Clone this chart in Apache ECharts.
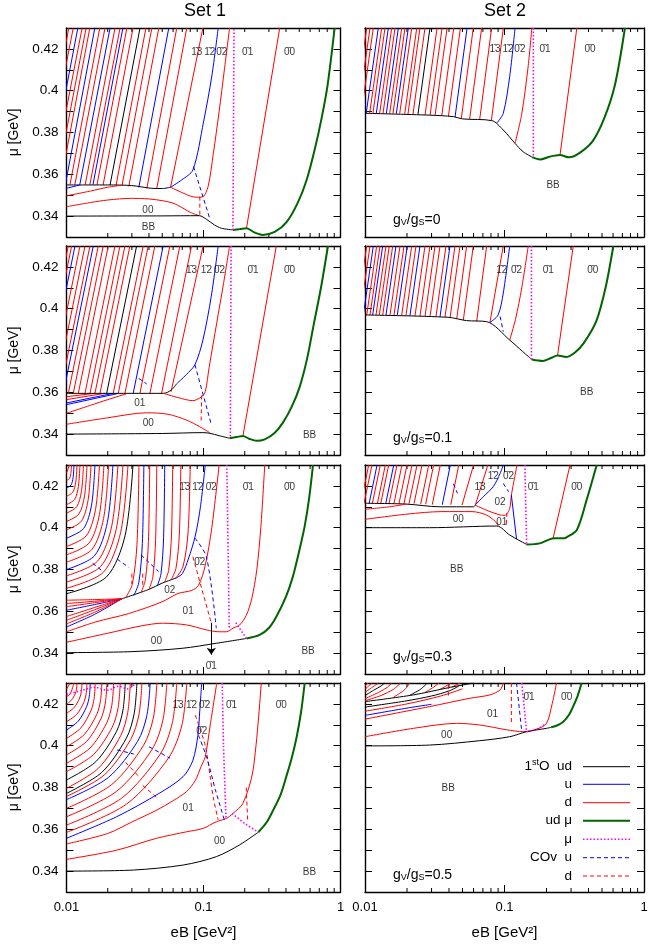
<!DOCTYPE html>
<html><head><meta charset="utf-8">
<script src="https://cdn.jsdelivr.net/npm/echarts@6/dist/echarts.min.js"></script>
<style>html,body{margin:0;padding:0;background:#fff}#c{width:664px;height:949px}</style>
</head><body><div id="c"></div>
<script>
// ---------------- DATA ----------------
const setNames = ['Set 1', 'Set 2'];
const gvRatios = ['0', '0.1', '0.3', '0.5'];
const xTickLabels = [0.01, 0.1, 1];
const yTickLabels = [0.34, 0.36, 0.38, 0.4, 0.42];
const legendItems = [['1{s|st}O  ud','ud'],['u','u'],['d','d'],['ud μ','udmu'],['μ','mu'],['COv  u','cu'],['d','cd']];

// fans: [eB at base, mu at base, eB at mu=0.43, quark]
const s1g0_fan = [
 [0.0063,0.355,0.0104,'d'],[0.0067,0.355,0.0112,'d'],[0.0073,0.355,0.0121,'u'],[0.0078,0.355,0.0130,'d'],
 [0.0084,0.355,0.0139,'d'],[0.0090,0.355,0.0148,'d'],[0.0098,0.355,0.0161,'u'],[0.0106,0.355,0.0175,'d'],
 [0.0115,0.355,0.0191,'d'],[0.0125,0.355,0.0208,'u'],[0.0137,0.355,0.0226,'d'],[0.0148,0.355,0.0246,'d'],
 [0.0156,0.355,0.0258,'u'],[0.0167,0.355,0.0276,'d'],[0.0185,0.3549,0.0306,'d'],[0.0208,0.3549,0.0344,'ud'],
 [0.0230,0.3547,0.038,'d'],[0.0254,0.3545,0.042,'d'],[0.0285,0.3542,0.0472,'d'],[0.0337,0.3537,0.0558,'u'],
 [0.0386,0.3533,0.0638,'d'],[0.0456,0.3532,0.0755,'d'],[0.0575,0.3538,0.099,'d']
];
const s1g0_lines = [
 ['ud',[[0.01,0.3549],[0.02,0.3549],[0.03,0.3546],[0.042,0.3533],[0.05,0.3532],[0.0575,0.3538]]],
 ['u',[[0.01,0.3533],[0.0125,0.3549]]],
 ['d',[[0.01,0.3497],[0.015,0.352],[0.02,0.3538],[0.025,0.3547]]],
 ['d',[[0.01,0.3445],[0.015,0.3465],[0.02,0.3477],[0.03,0.3485],[0.04,0.3482],[0.05,0.3474],[0.06,0.3462],[0.07,0.344],[0.08,0.3418],[0.093,0.3402]]],
 ['ud',[[0.01,0.34],[0.05,0.3401],[0.093,0.3402],[0.105,0.3385],[0.12,0.3358],[0.135,0.3342],[0.164,0.3334]]],
 ['udmu',[[0.164,0.3334],[0.185,0.3338],[0.206,0.3342],[0.235,0.3322],[0.27,0.331],[0.331,0.3324],[0.405,0.3372],[0.487,0.3463],[0.566,0.3573],[0.647,0.3716],[0.728,0.3869],[0.805,0.4027],[0.906,0.43]]],
 ['d',[[0.206,0.3342],[0.36,0.43]]],
 ['mu',[[0.164,0.3334],[0.167,0.43]]],
 ['u',[[0.0575,0.3538],[0.0693,0.3573],[0.0837,0.3621],[0.1,0.385],[0.115,0.407],[0.128,0.43]]],
 ['d',[[0.0575,0.3538],[0.07,0.3512],[0.08,0.3496],[0.089,0.349],[0.099,0.3493],[0.108,0.3541],[0.118,0.37],[0.13,0.39],[0.142,0.41],[0.155,0.43]]],
 ['cu',[[0.0845,0.3637],[0.112,0.3381]]],
 ['cd',[[0.094,0.3493],[0.094,0.3405]]]
];
const s1g0_labels = [['1\u03043',0.0893,0.4185],['1\u03042',0.111,0.4185],['0\u03042',0.136,0.4185],['0\u03041',0.21,0.4185],['0\u03040',0.425,0.4185],['00',0.0393,0.3429],['BB',0.0397,0.3348]];

const s2g0_fan = [
 [0.00843,0.3892,0.01028,'d'],[0.0089,0.3892,0.01086,'d'],[0.0094,0.3892,0.01147,'d'],[0.0102,0.3892,0.01245,'u'],
 [0.0108,0.3892,0.01317,'d'],[0.0114,0.3892,0.01391,'d'],[0.01205,0.3892,0.0147,'u'],[0.01274,0.3892,0.01554,'d'],
 [0.01346,0.3891,0.01641,'d'],[0.01422,0.3891,0.01734,'u'],[0.01503,0.3891,0.01833,'d'],[0.01587,0.389,0.01935,'d'],
 [0.01677,0.389,0.02045,'u'],[0.01773,0.389,0.02162,'d'],[0.01927,0.3889,0.0235,'d'],[0.02032,0.3888,0.02478,'d'],
 [0.02207,0.3887,0.02692,'d'],[0.02396,0.3886,0.02922,'ud'],[0.02695,0.3884,0.03287,'d'],[0.02927,0.3883,0.03569,'d'],
 [0.03178,0.3881,0.03876,'d'],[0.03547,0.3879,0.04325,'d'],[0.0396,0.3877,0.0483,'d'],[0.04421,0.3874,0.05392,'u'],
 [0.04899,0.3866,0.05974,'d'],[0.05622,0.3863,0.06856,'d'],[0.06631,0.386,0.08087,'d'],[0.0805,0.3857,0.09813,'d']
];
const s2g0_lines = [
 ['ud',[[0.01,0.3892],[0.029,0.3883],[0.043,0.3876],[0.05,0.3865],[0.081,0.3857],[0.098,0.3812],[0.119,0.3748],[0.136,0.3708],[0.158,0.3682]]],
 ['udmu',[[0.158,0.3682],[0.18,0.3671],[0.21,0.3684],[0.25,0.3692],[0.29,0.3681],[0.35,0.3705],[0.43,0.376],[0.52,0.387],[0.62,0.403],[0.73,0.43]]],
 ['u',[[0.088,0.3845],[0.098,0.3892],[0.109,0.4069],[0.119,0.43]]],
 ['d',[[0.119,0.3748],[0.133,0.389],[0.148,0.412],[0.157,0.43]]],
 ['mu',[[0.161,0.43],[0.161,0.368]]],
 ['d',[[0.25,0.3692],[0.33,0.43]]]
];
const s2g0_labels = [['1\u03043',0.0855,0.4196],['1\u03042',0.106,0.4196],['0\u03042',0.129,0.4196],['0\u03041',0.195,0.4196],['0\u03040',0.41,0.4196],['BB',0.223,0.3549]];

const s1g01_fan = [
 [0.00623,0.3595,0.0103,'d'],[0.00659,0.3595,0.0109,'d'],[0.00697,0.3595,0.01153,'u'],[0.00758,0.3595,0.01254,'d'],
 [0.00825,0.3595,0.01364,'d'],[0.00896,0.3595,0.01483,'d'],[0.00948,0.3595,0.01568,'u'],[0.01031,0.3595,0.01705,'d'],
 [0.01121,0.3595,0.01854,'d'],[0.01219,0.3595,0.02017,'d'],[0.01364,0.3595,0.02257,'d'],[0.01484,0.3595,0.02455,'d'],
 [0.01613,0.3595,0.02669,'d'],[0.01755,0.3595,0.02903,'d'],[0.01964,0.3595,0.03249,'ud'],[0.02194,0.3595,0.03629,'d'],
 [0.02386,0.3595,0.03947,'d'],[0.0267,0.3595,0.04417,'d'],[0.03068,0.3595,0.05076,'u'],[0.03434,0.3595,0.0568,'d'],
 [0.04062,0.3595,0.0672,'d'],[0.04942,0.3595,0.08176,'d'],[0.058,0.3603,0.09933,'d']
];
const s1g01_lines = [
 ['d',[[0.01,0.3579],[0.016,0.3595]]],['d',[[0.01,0.3565],[0.019,0.3595]]],
 ['u',[[0.01,0.3549],[0.022,0.3595]]],['u',[[0.01,0.3541],[0.024,0.3595]]],
 ['ud',[[0.01,0.3595],[0.03,0.3595],[0.051,0.3595],[0.058,0.361],[0.0635,0.364]]],
 ['u',[[0.0635,0.364],[0.075,0.3685],[0.0866,0.3732],[0.099,0.385],[0.114,0.406],[0.128,0.43]]],
 ['d',[[0.01,0.35],[0.015,0.3538],[0.02,0.3565],[0.0275,0.3593]]],
 ['d',[[0.051,0.3595],[0.065,0.3575],[0.0835,0.356],[0.097,0.3579],[0.103,0.3603],[0.11,0.372],[0.125,0.3933],[0.14,0.412],[0.155,0.43]]],
 ['d',[[0.01,0.3447],[0.02,0.3478],[0.0385,0.3502],[0.055,0.3495],[0.0752,0.3467],[0.094,0.3435],[0.111,0.3407]]],
 ['ud',[[0.01,0.34],[0.05,0.3403],[0.099,0.3407],[0.111,0.3404],[0.131,0.3392],[0.155,0.338]]],
 ['udmu',[[0.155,0.338],[0.175,0.3386],[0.194,0.3391],[0.215,0.3378],[0.244,0.3368],[0.28,0.3375],[0.33,0.3405],[0.38,0.3455],[0.44,0.353],[0.503,0.3625],[0.57,0.376],[0.64,0.393],[0.72,0.41],[0.81,0.43]]],
 ['d',[[0.194,0.3391],[0.34,0.43]]],
 ['mu',[[0.159,0.43],[0.157,0.338]]],
 ['cu',[[0.0866,0.3732],[0.114,0.3446]]],
 ['cd',[[0.097,0.3585],[0.096,0.3457]]],
 ['cu',[[0.0336,0.3667],[0.0385,0.364]]]
];
const s1g01_labels = [['1\u03043',0.0818,0.4185],['1\u03042',0.105,0.4185],['0\u03042',0.131,0.4185],['0\u03041',0.23,0.4185],['0\u03040',0.425,0.4185],['01',0.0343,0.3547],['00',0.0395,0.3451],['BB',0.595,0.3396]];

const s2g01_fan = [
 [0.00872,0.397,0.01028,'d'],[0.00921,0.397,0.01086,'d'],[0.00973,0.397,0.01147,'u'],[0.01029,0.397,0.01213,'d'],
 [0.01086,0.397,0.01281,'d'],[0.01135,0.397,0.01339,'u'],[0.01199,0.397,0.01414,'d'],[0.01266,0.397,0.01493,'d'],
 [0.0134,0.397,0.0158,'d'],[0.01414,0.397,0.01668,'u'],[0.01511,0.397,0.01782,'d'],[0.01615,0.397,0.01904,'d'],
 [0.01704,0.397,0.0201,'u'],[0.01833,0.397,0.02162,'d'],[0.01967,0.3968,0.0232,'d'],[0.02101,0.3967,0.02478,'u'],
 [0.02283,0.3966,0.02692,'d'],[0.02478,0.3965,0.02922,'d'],[0.02693,0.3964,0.03176,'d'],[0.02924,0.3963,0.03448,'d'],
 [0.03227,0.3962,0.03806,'d'],[0.03449,0.3961,0.04067,'u'],[0.03746,0.396,0.04418,'d'],[0.04068,0.3955,0.04797,'d'],
 [0.04543,0.395,0.05357,'d'],[0.05066,0.3945,0.05974,'d'],[0.0632,0.394,0.07452,'d'],[0.0786,0.3934,0.098,'d']
];
const s2g01_lines = [
 ['ud',[[0.01,0.397],[0.0394,0.3959],[0.0535,0.3943],[0.0745,0.3938],[0.109,0.385],[0.135,0.3795],[0.157,0.3757]]],
 ['udmu',[[0.157,0.3757],[0.188,0.375],[0.215,0.3764],[0.24,0.3776],[0.278,0.3769],[0.32,0.379],[0.37,0.3835],[0.455,0.394],[0.53,0.41],[0.603,0.43]]],
 ['u',[[0.0786,0.3934],[0.09,0.397],[0.098,0.4075],[0.109,0.43]]],
 ['cu',[[0.093,0.3963],[0.098,0.389]]],
 ['d',[[0.109,0.385],[0.12,0.395],[0.133,0.41],[0.148,0.43]]],
 ['mu',[[0.156,0.43],[0.156,0.3757]]],
 ['d',[[0.24,0.3776],[0.311,0.43]]]
];
const s2g01_labels = [['1\u03042',0.0955,0.4185],['0\u03042',0.122,0.4185],['0\u03041',0.206,0.4185],['0\u03040',0.43,0.4185],['BB',0.388,0.36]];

const s1g03_lines = [
 ['d',[[0.01,0.426],[0.0105,0.43]]],
 ['d',[[0.01,0.4225],[0.01051,0.4235],[0.01076,0.4259],[0.01087,0.43]]],
 ['u',[[0.01,0.419],[0.01078,0.4204],[0.01117,0.424],[0.01134,0.43]]],
 ['d',[[0.01,0.415],[0.01112,0.417],[0.01168,0.4218],[0.01193,0.43]]],
 ['d',[[0.01,0.411],[0.01146,0.4135],[0.0122,0.4196],[0.01254,0.43]]],
 ['d',[[0.01,0.407],[0.01187,0.41],[0.01285,0.4174],[0.0133,0.43]]],
 ['d',[[0.01,0.403],[0.0123,0.4065],[0.01354,0.4152],[0.01411,0.43]]],
 ['d',[[0.01,0.399],[0.0128,0.403],[0.01436,0.413],[0.01509,0.43]]],
 ['u',[[0.01,0.395],[0.01332,0.3996],[0.01523,0.4108],[0.01613,0.43]]],
 ['d',[[0.01,0.391],[0.01394,0.3961],[0.01628,0.4086],[0.0174,0.43]]],
 ['d',[[0.01,0.387],[0.01459,0.3926],[0.0174,0.4064],[0.01876,0.43]]],
 ['d',[[0.01,0.3835],[0.01529,0.3895],[0.01864,0.4044],[0.02029,0.43]]],
 ['u',[[0.01,0.38],[0.01597,0.3865],[0.01987,0.4025],[0.02182,0.43]]],
 ['d',[[0.01,0.377],[0.0168,0.3839],[0.0214,0.4009],[0.02374,0.43]]],
 ['d',[[0.01,0.374],[0.01767,0.3813],[0.02305,0.3992],[0.02583,0.43]]],
 ['d',[[0.01,0.371],[0.01859,0.3787],[0.02482,0.3976],[0.0281,0.43]]],
 ['ud',[[0.01,0.3684],[0.01955,0.3764],[0.02674,0.3961],[0.03057,0.43]]],
 ['u',[[0.01,0.3525],[0.016,0.3585],[0.0254,0.366]]],
 ['d',[[0.01,0.354],[0.016,0.3595],[0.0254,0.366]]],
 ['d',[[0.01,0.3557],[0.016,0.3607],[0.0254,0.366]]],
 ['d',[[0.01,0.3575],[0.016,0.3618],[0.0254,0.366]]],
 ['u',[[0.01,0.3605],[0.016,0.3632],[0.0254,0.366]]],
 ['d',[[0.01,0.3622],[0.016,0.3641],[0.0254,0.366]]],
 ['d',[[0.01,0.3637],[0.016,0.3648],[0.0254,0.366]]],
 ['d',[[0.01,0.3653],[0.016,0.3656],[0.0254,0.366]]],
 ['ud',[[0.0254,0.366],[0.04,0.3705],[0.05,0.3735],[0.0635,0.376]]],
 ['u',[[0.0635,0.376],[0.07,0.378],[0.0775,0.385],[0.087,0.396],[0.095,0.41],[0.103,0.43]]],
 ['d',[[0.027,0.3665],[0.0302,0.3729],[0.03268,0.3919],[0.0338,0.43]]],
 ['u',[[0.031,0.3675],[0.03373,0.3738],[0.03578,0.3925],[0.0367,0.43]]],
 ['d',[[0.035,0.369],[0.03765,0.3751],[0.03962,0.3934],[0.0405,0.43]]],
 ['d',[[0.04,0.3705],[0.04271,0.3765],[0.04471,0.3943],[0.0456,0.43]]],
 ['u',[[0.046,0.3722],[0.04895,0.378],[0.05113,0.3953],[0.0521,0.43]]],
 ['d',[[0.052,0.374],[0.05567,0.3796],[0.05839,0.3964],[0.0596,0.43]]],
 ['d',[[0.058,0.375],[0.06294,0.3805],[0.06664,0.397],[0.0683,0.43]]],
 ['d',[[0.0625,0.3758],[0.07071,0.3812],[0.0771,0.3975],[0.08,0.43]]],
 ['d',[[0.01,0.3502],[0.0163,0.3549],[0.0284,0.3589],[0.0497,0.3645],[0.065,0.3685],[0.082,0.370],[0.092,0.3724],[0.103,0.382],[0.115,0.40],[0.13,0.43]]],
 ['d',[[0.01,0.3452],[0.02,0.3495],[0.035,0.353],[0.05,0.3543],[0.075,0.3535],[0.105,0.3511],[0.13,0.3502],[0.147,0.3502],[0.165,0.352],[0.184,0.3535],[0.205,0.358],[0.225,0.366],[0.245,0.38],[0.262,0.40],[0.28,0.43]]],
 ['ud',[[0.01,0.3402],[0.03,0.3407],[0.07,0.3423],[0.124,0.3447],[0.206,0.347]]],
 ['udmu',[[0.206,0.347],[0.257,0.3487],[0.3,0.352],[0.34,0.3574],[0.4,0.367],[0.449,0.3766],[0.5,0.389],[0.547,0.4005],[0.59,0.414],[0.63,0.43]]],
 ['mu',[[0.148,0.43],[0.152,0.38],[0.154,0.352]]],
 ['mu',[[0.172,0.3545],[0.206,0.347]]],
 ['cd',[[0.0837,0.3861],[0.114,0.3543]]],
 ['cu',[[0.0866,0.395],[0.105,0.3861],[0.124,0.3519]]],
 ['cu',[[0.0155,0.383],[0.0185,0.379]]],
 ['cu',[[0.0234,0.385],[0.0285,0.381]]],
 ['cu',[[0.035,0.387],[0.047,0.379]]],
 ['cd',[[0.030,0.378],[0.030,0.373]]],
 ['cd',[[0.036,0.378],[0.036,0.372]]]
];
const s1g03_arrow = [[0.114,0.3545],[0.114,0.3392]];
const s1g03_labels = [['1\u03043',0.0731,0.4193],['1\u03042',0.091,0.4193],['0\u03042',0.114,0.4193],['0\u03041',0.212,0.4193],['0\u03040',0.425,0.4193],['02',0.0568,0.3702],['0\u03042',0.094,0.3837],['01',0.0773,0.3598],['00',0.0453,0.3455],['BB',0.58,0.3407],['0\u03041',0.114,0.3335]];

const s2g03_fan = [
 [0.00931,0.4115,0.01063,'d'],[0.00983,0.4115,0.01122,'d'],[0.0107,0.4115,0.0122,'u'],[0.01128,0.4115,0.01288,'d'],
 [0.01226,0.4115,0.01399,'d'],[0.01296,0.4115,0.01479,'d'],[0.01408,0.4115,0.01607,'u'],[0.01485,0.4115,0.01695,'d'],
 [0.01612,0.4115,0.0184,'d'],[0.01752,0.4115,0.02,'d'],[0.01903,0.4115,0.02172,'d'],[0.02067,0.4115,0.0236,'d'],
 [0.02246,0.4115,0.02564,'d'],[0.02508,0.4113,0.02863,'d'],[0.0272,0.4112,0.03105,'d'],[0.03035,0.411,0.03465,'d'],
 [0.0358,0.411,0.0409,'u'],[0.0412,0.411,0.047,'d'],[0.0496,0.4108,0.060,'d'],[0.0617,0.4107,0.076,'d']
];
const s2g03_lines = [
 ['ud',[[0.01,0.4117],[0.0198,0.4113],[0.0344,0.41],[0.06,0.41],[0.0617,0.4107]]],
 ['d',[[0.01,0.4088],[0.015,0.41],[0.0198,0.4113]]],
 ['d',[[0.0615,0.4108],[0.0787,0.4077],[0.093,0.4061],[0.101,0.4059],[0.109,0.4093],[0.112,0.4156],[0.123,0.43]]],
 ['u',[[0.0615,0.4108],[0.0703,0.4148],[0.083,0.4196],[0.093,0.426],[0.098,0.43]]],
 ['u',[[0.112,0.4156],[0.122,0.3945]]],
 ['cu',[[0.098,0.4212],[0.107,0.4172]]],
 ['cd',[[0.104,0.4071],[0.103,0.4015]]],
 ['d',[[0.01,0.404],[0.02,0.4065],[0.0356,0.4077],[0.0585,0.4077],[0.074,0.4061],[0.0862,0.4029],[0.09,0.4008]]],
 ['ud',[[0.01,0.40],[0.029,0.40],[0.088,0.4008],[0.109,0.3965],[0.144,0.392]]],
 ['udmu',[[0.144,0.392],[0.179,0.3925],[0.21,0.3944],[0.23,0.3949],[0.265,0.3949],[0.278,0.3954],[0.33,0.3989],[0.388,0.4133],[0.458,0.43]]],
 ['mu',[[0.14,0.43],[0.144,0.392]]],
 ['d',[[0.223,0.3949],[0.295,0.43]]],
 ['cu',[[0.043,0.421],[0.046,0.4165]]]
];
const s2g03_labels = [['1\u03042',0.083,0.4244],['0\u03042',0.107,0.4244],['1\u03043',0.0668,0.4193],['0\u03041',0.161,0.4193],['0\u03040',0.33,0.4193],['02',0.093,0.412],['01',0.0955,0.4025],['00',0.0467,0.404],['BB',0.0455,0.38]];

const s1g05_lines = [
 ['d',[[0.01,0.427],[0.01063,0.43]]],
 ['d',[[0.01,0.4235],[0.01065,0.4248],[0.01134,0.43]]],
 ['d',[[0.01,0.4195],[0.01112,0.4227],[0.01172,0.4258],[0.01193,0.43]]],
 ['d',[[0.01,0.4155],[0.01139,0.4183],[0.01247,0.4228],[0.01284,0.4259],[0.01297,0.43]]],
 ['d',[[0.01,0.4115],[0.01188,0.415],[0.0134,0.4208],[0.01392,0.4248],[0.01411,0.43]]],
 ['u',[[0.01,0.4075],[0.01221,0.4118],[0.01404,0.4188],[0.01467,0.4237],[0.01491,0.43]]],
 ['d',[[0.01,0.4035],[0.01274,0.4085],[0.01509,0.4168],[0.01591,0.4226],[0.01622,0.43]]],
 ['d',[[0.01,0.3995],[0.01346,0.4053],[0.01658,0.4148],[0.0177,0.4215],[0.01813,0.43]]],
 ['d',[[0.01,0.3956],[0.01405,0.4021],[0.01782,0.4128],[0.0192,0.4204],[0.01973,0.43]]],
 ['d',[[0.01,0.3916],[0.01486,0.3989],[0.01962,0.4108],[0.0214,0.4192],[0.02209,0.43]]],
 ['d',[[0.01,0.3876],[0.01571,0.3957],[0.02155,0.4088],[0.0238,0.4181],[0.02468,0.43]]],
 ['ud',[[0.01,0.3836],[0.01639,0.3924],[0.02316,0.4068],[0.02582,0.417],[0.02686,0.43]]],
 ['d',[[0.01,0.3796],[0.01709,0.3892],[0.02487,0.4048],[0.02799,0.4159],[0.02921,0.43]]],
 ['ud',[[0.01,0.3772],[0.01807,0.3872],[0.02735,0.4036],[0.03115,0.4152],[0.03266,0.43]]],
 ['d',[[0.01,0.3757],[0.01885,0.386],[0.02938,0.4029],[0.03377,0.4148],[0.03553,0.43]]],
 ['u',[[0.01,0.3742],[0.02021,0.3848],[0.03306,0.4021],[0.03859,0.4144],[0.04083,0.43]]],
 ['d',[[0.01,0.370],[0.02138,0.3814],[0.03639,0.40],[0.043,0.4132],[0.0457,0.43]]],
 ['d',[[0.01,0.366],[0.02324,0.3782],[0.04193,0.398],[0.05048,0.4121],[0.054,0.43]]],
 ['d',[[0.01,0.362],[0.02526,0.3749],[0.04832,0.396],[0.05925,0.411],[0.0638,0.43]]],
 ['d',[[0.01,0.3585],[0.02748,0.3721],[0.05575,0.3943],[0.06964,0.41],[0.0755,0.43]]],
 ['u',[[0.01,0.3557],[0.0232,0.366],[0.048,0.3774],[0.071,0.3852],[0.0837,0.393],[0.091,0.405],[0.094,0.417],[0.097,0.43]]],
 ['d',[[0.01,0.353],[0.02,0.358],[0.03,0.3635],[0.045,0.369],[0.06,0.3737],[0.075,0.378],[0.087,0.3833],[0.096,0.39],[0.103,0.3947],[0.112,0.41],[0.125,0.43]]],
 ['d',[[0.01,0.3456],[0.0232,0.35],[0.0454,0.3557],[0.0752,0.3588],[0.099,0.3604],[0.124,0.3636],[0.147,0.3652],[0.164,0.3676],[0.194,0.3724],[0.23,0.3883],[0.264,0.43]]],
 ['ud',[[0.01,0.34],[0.0307,0.3405],[0.071,0.3429],[0.124,0.3469],[0.184,0.3526],[0.251,0.3586]]],
 ['udmu',[[0.251,0.3586],[0.29,0.3635],[0.324,0.3694],[0.365,0.3765],[0.402,0.3852],[0.44,0.394],[0.479,0.4043],[0.515,0.416],[0.548,0.43]]],
 ['mu',[[0.137,0.43],[0.14,0.40],[0.146,0.3655]]],
 ['mu',[[0.162,0.3675],[0.2,0.3628],[0.251,0.3586]]],
 ['mu',[[0.01,0.4245],[0.013,0.4265],[0.016,0.428],[0.02,0.4265],[0.024,0.4285],[0.028,0.4272],[0.032,0.43]]],
 ['cd',[[0.087,0.4147],[0.103,0.40],[0.112,0.385],[0.118,0.375],[0.128,0.3645]]],
 ['cu',[[0.092,0.405],[0.106,0.394],[0.122,0.379],[0.142,0.3645]]],
 ['cd',[[0.205,0.38],[0.21,0.3645]]],
 ['cu',[[0.0234,0.398],[0.031,0.396]]],
 ['cu',[[0.040,0.3995],[0.057,0.394]]],
 ['cd',[[0.027,0.392],[0.034,0.385]]],
 ['cd',[[0.036,0.381],[0.046,0.375]]]
];
const s1g05_labels = [['1\u03043',0.0652,0.4195],['1\u03042',0.0818,0.4195],['0\u03042',0.102,0.4195],['0\u03041',0.16,0.4195],['0\u03040',0.37,0.4195],['0\u03042',0.097,0.4067],['01',0.0773,0.37],['00',0.131,0.3545],['BB',0.594,0.3394]];

const s2g05_lines = [
 ['d',[[0.01,0.4285],[0.0105,0.43]]],
 ['d',[[0.01,0.427],[0.0106,0.4285],[0.0113,0.43]]],
 ['d',[[0.01,0.4255],[0.0113,0.428],[0.0125,0.43]]],
 ['ud',[[0.01,0.424],[0.0115,0.4265],[0.013,0.4285],[0.0138,0.43]]],
 ['d',[[0.01,0.4225],[0.0125,0.4255],[0.0145,0.428],[0.0155,0.43]]],
 ['d',[[0.01,0.4215],[0.013,0.424],[0.016,0.427],[0.018,0.43]]],
 ['d',[[0.016,0.4232],[0.019,0.4265],[0.021,0.43]]],
 ['ud',[[0.021,0.4242],[0.025,0.427],[0.028,0.43]]],
 ['d',[[0.027,0.4255],[0.031,0.428],[0.034,0.43]]],
 ['d',[[0.034,0.4268],[0.038,0.4285],[0.041,0.43]]],
 ['d',[[0.042,0.4281],[0.048,0.43]]],
 ['ud',[[0.01,0.4211],[0.0222,0.4243],[0.04,0.4278],[0.06,0.43]]],
 ['ud',[[0.01,0.4185],[0.02,0.4215],[0.03,0.4238],[0.04,0.4262],[0.047,0.4285]]],
 ['d',[[0.01,0.4165],[0.02,0.42],[0.035,0.4238],[0.05,0.4272]]],
 ['u',[[0.01,0.4145],[0.02,0.418],[0.03,0.4198]]],
 ['d',[[0.01,0.4127],[0.029,0.4187],[0.0565,0.4227],[0.0786,0.4243],[0.093,0.4267],[0.098,0.43]]],
 ['d',[[0.01,0.4043],[0.0222,0.4083],[0.0455,0.4107],[0.0665,0.4099],[0.104,0.4076],[0.136,0.4067],[0.17,0.4079],[0.2,0.4107],[0.22,0.4203],[0.236,0.43]]],
 ['ud',[[0.01,0.3999],[0.029,0.4003],[0.0665,0.4024],[0.109,0.4043],[0.144,0.4067],[0.2,0.4083],[0.216,0.4088]]],
 ['udmu',[[0.216,0.4088],[0.24,0.4098],[0.264,0.4115],[0.29,0.4148],[0.31,0.4187],[0.335,0.424],[0.357,0.43]]],
 ['cd',[[0.112,0.43],[0.112,0.4099]]],
 ['cu',[[0.122,0.43],[0.133,0.4067]]],
 ['mu',[[0.133,0.43],[0.144,0.4067]]],
 ['mu',[[0.144,0.4067],[0.17,0.4079],[0.2,0.4107]]],
 ['cd',[[0.0396,0.429],[0.0396,0.424]]]
];
const s2g05_labels = [['0\u03041',0.15,0.4234],['0\u03040',0.279,0.4234],['01',0.082,0.4152],['00',0.0385,0.4051],['BB',0.0395,0.3796]];

// ---------------- LAYOUT / STYLE ----------------
const FONT = "'Liberation Sans', Arial, Helvetica, sans-serif";
const COLS = [{left:66.5,width:274},{left:365,width:279}];
const ROWS = [28,246,465,683];
const GH = 209;
const STYLE = {
  ud:{color:'#000000',width:1,type:'solid'},
  u:{color:'#0000ff',width:1,type:'solid'},
  d:{color:'#ff0000',width:1,type:'solid'},
  udmu:{color:'#006400',width:2,type:'solid'},
  mu:{color:'#ff00ff',width:1.6,type:[1.5,2]},
  cu:{color:'#0000ff',width:1,type:[4,3]},
  cd:{color:'#ff0000',width:1,type:[4,3]}
};
const PANELS = [
  {fan:s1g0_fan, lines:s1g0_lines, labels:s1g0_labels},
  {fan:s2g0_fan, lines:s2g0_lines, labels:s2g0_labels},
  {fan:s1g01_fan, lines:s1g01_lines, labels:s1g01_labels},
  {fan:s2g01_fan, lines:s2g01_lines, labels:s2g01_labels},
  {fan:[], lines:s1g03_lines, labels:s1g03_labels, arrow:s1g03_arrow},
  {fan:s2g03_fan, lines:s2g03_lines, labels:s2g03_labels},
  {fan:[], lines:s1g05_lines, labels:s1g05_labels},
  {fan:[], lines:s2g05_lines, labels:s2g05_labels}
];

const grid=[], xAxis=[], yAxis=[], series=[];
PANELS.forEach((p,i)=>{
  const r=Math.floor(i/2), c=i%2;
  grid.push({left:COLS[c].left, width:COLS[c].width, top:ROWS[r], height:GH});
  const axLine={show:true,onZero:false,lineStyle:{color:'#000',width:1.4}};
  const xBase={gridIndex:i,type:'log',logBase:10,min:0.01,max:1,splitNumber:2,splitLine:{show:false},
    axisLine:axLine,axisTick:{show:true,inside:true,length:7,lineStyle:{color:'#000'}}};
  xAxis.push(Object.assign({},xBase,{position:'bottom',
    axisLabel:{show:r===3,color:'#000',fontSize:13,fontFamily:FONT,margin:9,
      formatter:v=>{const t=xTickLabels.find(q=>Math.abs(q-v)/q<1e-6);return t===undefined?'':String(t);}},
    name:r===3?'eB [GeV²]':'',nameLocation:'middle',nameGap:33,
    nameTextStyle:{color:'#000',fontSize:15,fontFamily:FONT}}));
  xAxis.push(Object.assign({},xBase,{position:'top',axisLabel:{show:false}}));
  const yBase={gridIndex:i,type:'value',min:0.33,max:0.43,interval:0.01,splitLine:{show:false},
    axisLine:axLine,axisTick:{show:true,inside:true,length:7,lineStyle:{color:'#000'}}};
  yAxis.push(Object.assign({},yBase,{position:'left',
    axisLabel:{show:c===0,color:'#000',fontSize:13.5,fontFamily:FONT,margin:8,
      formatter:v=>{const t=yTickLabels.find(q=>Math.abs(q-v)<1e-6);return t===undefined?'':String(t);}},
    name:c===0?'μ [GeV]':'',nameLocation:'middle',nameGap:45,nameRotate:90,
    nameTextStyle:{color:'#000',fontSize:14,fontFamily:FONT}}));
  yAxis.push(Object.assign({},yBase,{position:'right',axisLabel:{show:false}}));

  const mk=(pts,q,sm)=>{const st=STYLE[q];series.push({type:'line',xAxisIndex:2*i,yAxisIndex:2*i,data:pts,
    showSymbol:false,symbol:'none',smooth:sm,clip:true,silent:true,animation:false,
    z:q==='udmu'?4:(q==='mu'?5:3),lineStyle:{color:st.color,width:st.width,type:st.type}});};
  p.fan.forEach(f=>mk([[f[0],f[1]],[f[2],0.43]],f[3],false));
  p.lines.forEach(l=>mk(l[1],l[0],l[1].length>2?0.3:false));
  const lab={type:'scatter',xAxisIndex:2*i,yAxisIndex:2*i,symbolSize:1,silent:true,animation:false,z:10,
    itemStyle:{color:'rgba(0,0,0,0)'},
    label:{show:true,position:'inside',formatter:q=>q.name,color:'#000',fontSize:10,fontFamily:FONT},
    data:p.labels.map(l=>({name:l[0],value:[l[1],l[2]]}))};
  if(p.arrow){lab.markLine={silent:true,symbol:['none','arrow'],symbolSize:7,animation:false,
    lineStyle:{color:'#000',width:1,type:'solid'},label:{show:false},
    data:[[{coord:p.arrow[0]},{coord:p.arrow[1]}]]};}
  series.push(lab);
});

// titles (rich text)
const title=[];
gvRatios.forEach((g,r)=>{
  title.push({left:393,top:ROWS[r]+GH-28,padding:0,
    text:'{a|g}{b|V}{a|/g}{b|S}{a|='+g+'}',
    textStyle:{fontWeight:'normal',rich:{a:{fontSize:14,fontFamily:FONT,fontWeight:'normal',color:'#000',lineHeight:18,verticalAlign:'bottom'},
                     b:{fontSize:9,fontFamily:FONT,fontWeight:'normal',color:'#000',lineHeight:12,verticalAlign:'bottom'}}}});
});
const LEG_Y=[766.7,784.3,802.7,820.7,839.3,857.7,876];
legendItems.forEach((it,k)=>{
  title.push({right:664-572,top:LEG_Y[k]-9,padding:0,text:it[0],
    textStyle:{rich:{s:{fontSize:9,fontFamily:FONT,fontWeight:'normal',color:'#000',verticalAlign:'top',lineHeight:18}},
      fontSize:13.5,fontFamily:FONT,color:'#000',fontWeight:'normal',lineHeight:18}});
});

const chart=echarts.init(document.getElementById('c'),null,{renderer:'canvas'});
chart.setOption({animation:false,backgroundColor:'#fff',title,grid,xAxis,yAxis,series});

// decorations: set titles, legend lines, log minor ticks
const graphic=[];
setNames.forEach((s,c)=>{
  graphic.push({type:'text',x:c===0?205:505,y:11,silent:true,
    style:{text:s,font:'18px '+FONT,fill:'#000',align:'center',verticalAlign:'middle',textAlign:'center',textVerticalAlign:'middle'}});
});
legendItems.forEach((it,k)=>{
  const st=STYLE[it[1]];
  graphic.push({type:'line',silent:true,shape:{x1:583,y1:LEG_Y[k],x2:630,y2:LEG_Y[k]},
    style:{stroke:st.color,lineWidth:st.width,lineDash:Array.isArray(st.type)?st.type:null}});
});
const minors=[];[0.01,0.1].forEach(d=>{for(let k=2;k<=9;k++)minors.push(d*k);});
PANELS.forEach((p,i)=>{
  const r=Math.floor(i/2);const top=ROWS[r],bot=ROWS[r]+GH;
  minors.forEach(m=>{
    const px=chart.convertToPixel({xAxisIndex:2*i},m);
    graphic.push({type:'line',silent:true,shape:{x1:px,y1:bot,x2:px,y2:bot-4},style:{stroke:'#000',lineWidth:1}});
    graphic.push({type:'line',silent:true,shape:{x1:px,y1:top,x2:px,y2:top+4},style:{stroke:'#000',lineWidth:1}});
  });
});
chart.setOption({graphic});
</script></body></html>
